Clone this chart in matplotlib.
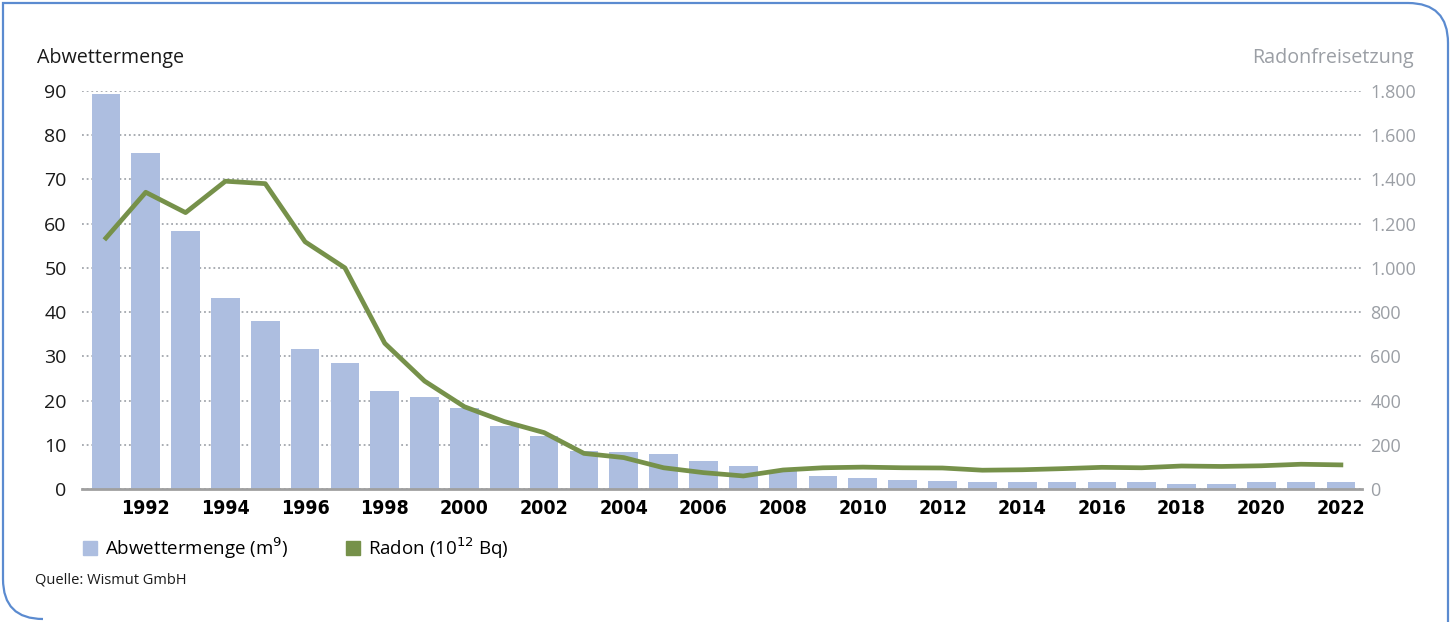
import numpy as np
import matplotlib
matplotlib.use('Agg')
import matplotlib.pyplot as plt
from matplotlib.lines import Line2D
from matplotlib.path import Path
from matplotlib.patches import PathPatch
from matplotlib.ticker import FuncFormatter

plt.rcParams['font.family'] = ['Open Sans', 'DejaVu Sans']

years = list(range(1991, 2023))
# Abwettermenge (m9)
abwetter = [89.3, 76.0, 58.3, 43.2, 38.1, 31.7, 28.5, 22.2, 20.8, 18.3,
            14.2, 12.0, 8.6, 8.4, 7.9, 6.3, 5.2, 4.2, 3.0, 2.6,
            2.1, 1.9, 1.5, 1.5, 1.5, 1.5, 1.5, 1.2, 1.2, 1.5,
            1.5, 1.5]
# Radon (10^12 Bq)
radon = [1135, 1342, 1250, 1392, 1381, 1118, 1000, 659, 488, 372,
         305, 255, 161, 142, 96, 74, 59, 86, 96, 99,
         96, 95, 85, 87, 92, 98, 96, 104, 102, 105,
         112, 109]
year_labels = [str(y) if y % 2 == 0 else '' for y in years]

bar_color = '#adbee0'
line_color = '#76914a'
grey_text = '#9b9fa5'

fig = plt.figure(figsize=(14.54, 6.22), dpi=100)
ax = fig.add_axes([82 / 1454, 1 - 489 / 622, (1362 - 82) / 1454, (489 - 91) / 622])
ax2 = ax.twinx()

x = np.arange(len(years))
ax.bar(x, abwetter, width=0.72, color=bar_color, zorder=2)
ax2.plot(x, radon, color=line_color, linewidth=3.4, zorder=3)

ax.set_xlim(-0.6, len(years) - 0.47)
ax.set_ylim(0, 90)
ax2.set_ylim(0, 1800)
ax.set_yticks(np.arange(0, 91, 10))
ax2.set_yticks(np.arange(0, 1801, 200))
ax2.yaxis.set_major_formatter(FuncFormatter(lambda v, p: f'{int(v):,}'.replace(',', '.')))

# condensed bold year labels
ax.set_xticks(x, year_labels)
for lbl in ax.get_xticklabels():
    lbl.set_family(['DejaVu Sans'])
    lbl.set_fontstretch('condensed')
    lbl.set_fontweight('bold')
    lbl.set_fontsize(14)

ax.grid(axis='y', color='#a3a7ad', linestyle=(0, (1, 1.6)), linewidth=1.3, zorder=0)
ax.set_axisbelow(True)
for a in (ax, ax2):
    for s in a.spines.values():
        s.set_visible(False)
ax.spines['bottom'].set_visible(True)
ax.spines['bottom'].set_color('#a0a0a0')
ax.spines['bottom'].set_linewidth(2)
ax.spines['bottom'].set_zorder(4)

ax.tick_params(axis='x', length=0, pad=7)
ax.tick_params(axis='y', length=0, pad=11, labelsize=14, labelcolor='#1a1a1a')
ax2.tick_params(axis='y', length=0, pad=6, labelsize=13, labelcolor=grey_text)

fig.text(37 / 1454, 1 - 58 / 622, 'Abwettermenge', fontsize=14.2, color='#1a1a1a',
         ha='left', va='center')
fig.text(1414 / 1454, 1 - 58 / 622, 'Radonfreisetzung', fontsize=14.2, color=grey_text,
         ha='right', va='center')

handles = [Line2D([], [], marker='s', linestyle='', markersize=10, color=bar_color),
           Line2D([], [], marker='s', linestyle='', markersize=10, color=line_color)]
fig.legend(handles, ['Abwettermenge (m$^9$)', 'Radon (10$^{12}$ Bq)'],
           loc='center left', bbox_to_anchor=(64 / 1454, 1 - 548 / 622), ncol=2,
           frameon=False, fontsize=13.5, handletextpad=0.3, columnspacing=2.9,
           handlelength=1.0)

fig.text(35 / 1454, 1 - 580 / 622, 'Quelle: Wismut GmbH', fontsize=10.5, color='#1a1a1a',
         ha='left', va='center')

# frame: square top-left, rounded top-right and bottom-left
W, H = 1454, 622
r = 40
left, right, top, bottom = 3, 1448, 3, 619
verts = [(left + r, bottom), (left, bottom), (left, bottom - r),
         (left, top), (right - r, top), (right, top), (right, top + r),
         (right, H + 5)]
codes = [Path.MOVETO, Path.CURVE3, Path.CURVE3,
         Path.LINETO, Path.LINETO, Path.CURVE3, Path.CURVE3, Path.LINETO]
verts = [(vx / W, 1 - vy / H) for vx, vy in verts]
frame = PathPatch(Path(verts, codes), transform=fig.transFigure, fill=False,
                  edgecolor='#5b8bd0', linewidth=1.6)
fig.patches.append(frame)

plt.savefig('out.png', dpi=100)
